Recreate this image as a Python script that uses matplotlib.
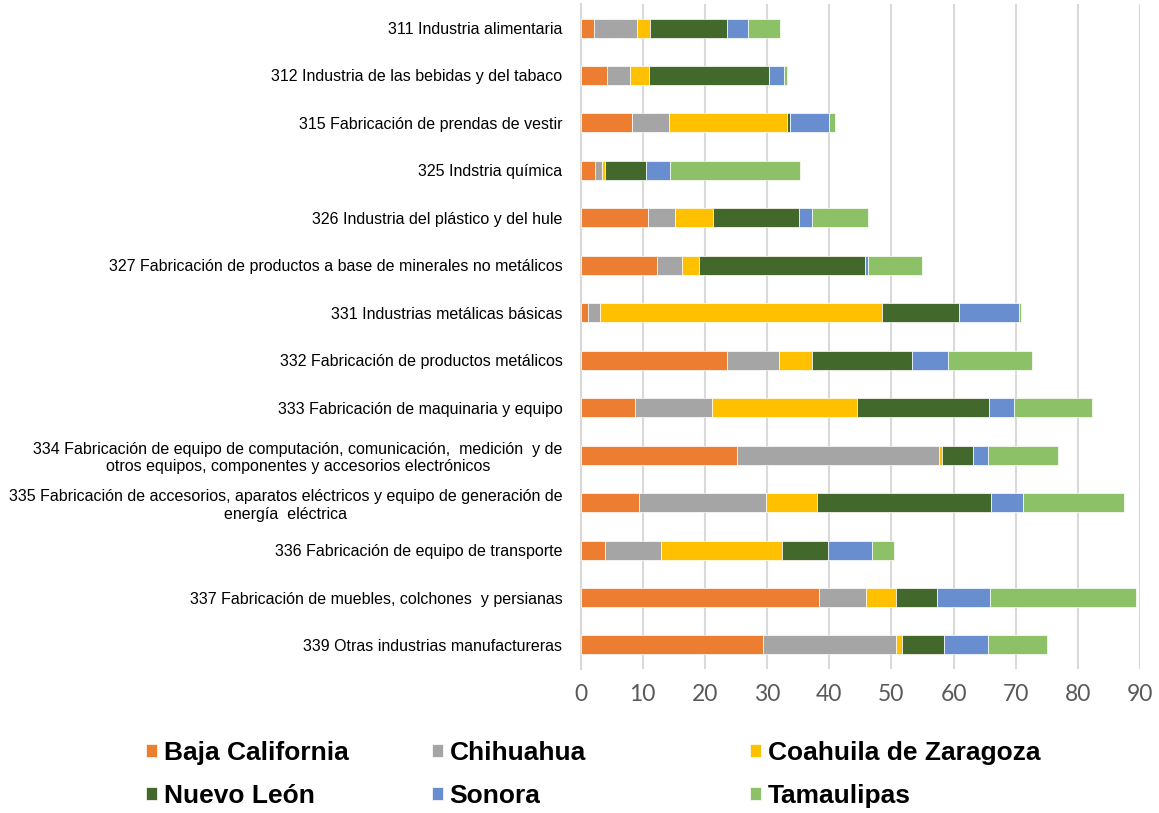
import matplotlib
matplotlib.use("Agg")
import matplotlib.pyplot as plt
import numpy as np

categories = [
    "311 Industria alimentaria",
    "312 Industria de las bebidas y del tabaco",
    "315 Fabricación de prendas de vestir",
    "325 Indstria química",
    "326 Industria del plástico y del hule",
    "327 Fabricación de productos a base de minerales no metálicos",
    "331 Industrias metálicas básicas",
    "332 Fabricación de productos metálicos",
    "333 Fabricación de maquinaria y equipo",
    "334 Fabricación de equipo de computación, comunicación,  medición  y de\notros equipos, componentes y accesorios electrónicos",
    "335 Fabricación de accesorios, aparatos eléctricos y equipo de generación de\nenergía  eléctrica",
    "336 Fabricación de equipo de transporte",
    "337 Fabricación de muebles, colchones  y persianas",
    "339 Otras industrias manufactureras",
]

series_names = ["Baja California", "Chihuahua", "Coahuila de Zaragoza",
                "Nuevo León", "Sonora", "Tamaulipas"]

baja_california = [2.2, 4.3, 8.3, 2.4, 10.9, 12.3, 1.2, 23.5, 8.8, 25.1, 9.4, 4.0, 38.4, 29.4]
chihuahua       = [6.9, 3.6, 5.9, 1.0, 4.3, 4.1, 1.9, 8.4, 12.3, 32.6, 20.4, 8.9, 7.5, 21.4]
coahuila        = [2.0, 3.1, 19.0, 0.6, 6.1, 2.7, 45.4, 5.4, 23.3, 0.4, 8.2, 19.5, 4.9, 0.9]
nuevo_leon      = [12.4, 19.3, 0.5, 6.6, 13.9, 26.6, 12.4, 16.0, 21.3, 5.0, 28.1, 7.4, 6.6, 6.8]
sonora          = [3.5, 2.4, 6.2, 3.8, 2.1, 0.5, 9.7, 5.8, 4.0, 2.5, 5.1, 7.1, 8.5, 7.1]
tamaulipas      = [5.1, 0.5, 1.1, 20.9, 8.9, 8.8, 0.2, 13.5, 12.6, 11.2, 16.3, 3.5, 23.5, 9.4]

xticks = [0, 10, 20, 30, 40, 50, 60, 70, 80, 90]

colors = ["#ED7D31", "#A5A5A5", "#FFC000", "#43682B", "#698ED0", "#8CC168"]

series = [baja_california, chihuahua, coahuila, nuevo_leon, sonora, tamaulipas]

fig = plt.figure(figsize=(11.59, 8.13), dpi=100)
ax = fig.add_axes([580.5 / 1159, 1 - 668.7 / 813, (1140 - 580.5) / 1159, (668.7 - 4.3) / 813])

y = np.arange(len(categories))
left = np.zeros(len(categories))
handles = []
for name, vals, c in zip(series_names, series, colors):
    vals = np.array(vals)
    b = ax.barh(y, vals, left=left, height=0.4, color=c, edgecolor="white",
                linewidth=0.5, label=name, zorder=3)
    handles.append(b)
    left += vals

ax.set_ylim(len(categories) - 0.5, -0.5)
ax.set_xlim(0, 90)
ax.set_xticks(xticks)
ax.set_xticklabels([str(t) for t in xticks], fontsize=16.5, color="#595959",
                   family=["Lato", "DejaVu Sans"])
ax.set_yticks(y)
ax.set_yticklabels(categories, fontsize=11.5, family=["Liberation Sans", "DejaVu Sans"],
                   color="black", multialignment="center")
ax.tick_params(axis="both", length=0)
ax.tick_params(axis="y", pad=13)
ax.tick_params(axis="x", pad=11)
ax.xaxis.grid(True, color="#D9D9D9", linewidth=1.5, zorder=0)
ax.set_axisbelow(True)
for s in ["top", "right", "bottom"]:
    ax.spines[s].set_visible(False)
ax.spines["left"].set_color("#D9D9D9")
ax.spines["left"].set_linewidth(1.5)

legend_font = {"family": ["Liberation Sans", "DejaVu Sans"], "weight": "bold", "size": 19}
col_x = [146 / 1159, 432 / 1159, 750 / 1159]
for ci in range(3):
    hs = [handles[ci], handles[ci + 3]]
    lb = [series_names[ci], series_names[ci + 3]]
    fig.legend(hs, lb, loc="upper left", bbox_to_anchor=(col_x[ci], 1 - 741 / 813),
               ncol=1, frameon=False, prop=legend_font, handlelength=0.42,
               handleheight=0.42, handletextpad=0.25, labelspacing=0.72,
               borderpad=0, borderaxespad=0)

fig.savefig("out.png", dpi=100)
